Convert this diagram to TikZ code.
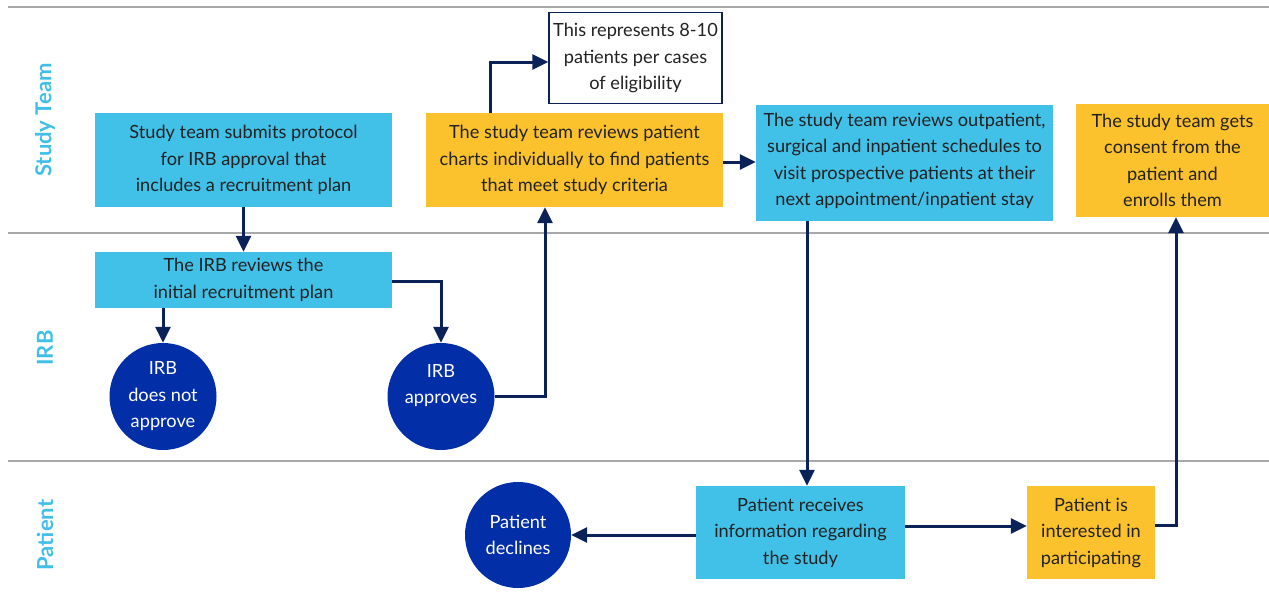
\documentclass[tikz,border=0pt]{standalone}
\usepackage{fontspec}
\setmainfont{Lato}
\usetikzlibrary{arrows.meta}

\definecolor{cyanbox}{HTML}{41C0E8}
\definecolor{goldbox}{HTML}{FCC22D}
\definecolor{navy}{HTML}{0B2259}
\definecolor{royal}{HTML}{022EA8}
\definecolor{laneline}{HTML}{A8A8A8}
\definecolor{ink}{HTML}{222222}
\definecolor{lanetext}{HTML}{41BFE8}

\begin{document}
\begin{tikzpicture}[x=1pt,y=-1pt,
  every node/.style={inner sep=0pt, align=center,
    font=\fontsize{18.2}{26.5}\selectfont, text=ink},
  cbox/.style={fill=cyanbox},
  gbox/.style={fill=goldbox},
  note/.style={fill=white, draw=navy, line width=1.3pt},
  disc/.style={circle, fill=royal, text=white, minimum size=107pt},
  disctext/.style={text=white},
  lanelabel/.style={rotate=90, text=lanetext,
    font=\fontsize{22}{24}\selectfont\bfseries},
  lane/.style={draw=laneline, line width=2.8pt},
  flow/.style={draw=navy, line width=3pt,
    -{Triangle[length=16pt,width=15pt]}},
]
\useasboundingbox (0,0) rectangle (1269,605);

% swimlane separators
\draw[lane] (8,7) -- (1269,7);
\draw[lane] (8,233) -- (1269,233);
\draw[lane] (8,461) -- (1269,461);

% lane titles
\node[lanelabel] (lst) at (45,120) {Study Team};
\node[lanelabel] (lirb) at (45,348) {IRB};
\node[lanelabel] (lpat) at (45,535) {Patient};

% study team lane
\node[cbox, minimum width=297pt, minimum height=94pt] (submit) at (243.5,160)
  {Study team submits protocol\\for IRB approval that\\includes a recruitment plan};
\node[gbox, minimum width=297pt, minimum height=94pt] (charts) at (574.5,160)
  {The study team reviews patient\\charts individually to find patients\\that meet study criteria};
\node[note, minimum width=173pt, minimum height=91pt] (note) at (635.5,58)
  {This represents 8-10\\patients per cases\\of eligibility};
\node[cbox, minimum width=297pt, minimum height=116pt] (sched) at (904.5,163) {};
\node (schedtext) at ([yshift=2pt]sched.center)
  {The study team reviews outpatient,\\surgical and inpatient schedules to\\visit prospective patients at their\\next appointment/inpatient stay};
\node[gbox, minimum width=193pt, minimum height=113pt] (consent) at (1172.5,160.5)
  {The study team gets\\consent from the\\patient and\\enrolls them};

% IRB lane
\node[cbox, minimum width=297pt, minimum height=56pt] (review) at (243.5,280)
  {The IRB reviews the\\initial recruitment plan};
\node[disc] (deny) at (163,396.5) {IRB\\does not\\approve};
\node[disc] (approve) at (441,396.5) {};
\node[disctext] (approvetext) at ([yshift=11pt]approve.center) {IRB\\approves};

% patient lane
\node[cbox, minimum width=209pt, minimum height=93pt] (info) at (800.5,532.5)
  {Patient receives\\information regarding\\the study};
\node[disc, minimum size=106pt] (decline) at (518,535) {Patient\\declines};
\node[gbox, minimum width=128pt, minimum height=93pt] (interest) at (1091,532.5)
  {Patient is\\interested in\\participating};

% connectors
\draw[flow] (submit.south) -- (review.north);
\draw[flow] (review.south -| deny.north) -- (deny.north);
\draw[flow] (review.east |- 0,281) -| (approve.north);
\draw[flow] (approve.east) -| (charts.south -| 545,0);
\draw[flow] (charts.north -| 490,0) |- (note.west |- 0,62);
\draw[flow] (charts.east |- 0,162) -- (sched.west |- 0,162);
\draw[flow] (sched.south -| 807,0) -- (info.north -| 807,0);
\draw[flow] (info.west |- 0,535) -- (decline.east);
\draw[flow] (info.east |- 0,526) -- (interest.west |- 0,526);
\draw[flow] (interest.east |- 0,525) -| (consent.south -| 1176,0);
\end{tikzpicture}
\end{document}
